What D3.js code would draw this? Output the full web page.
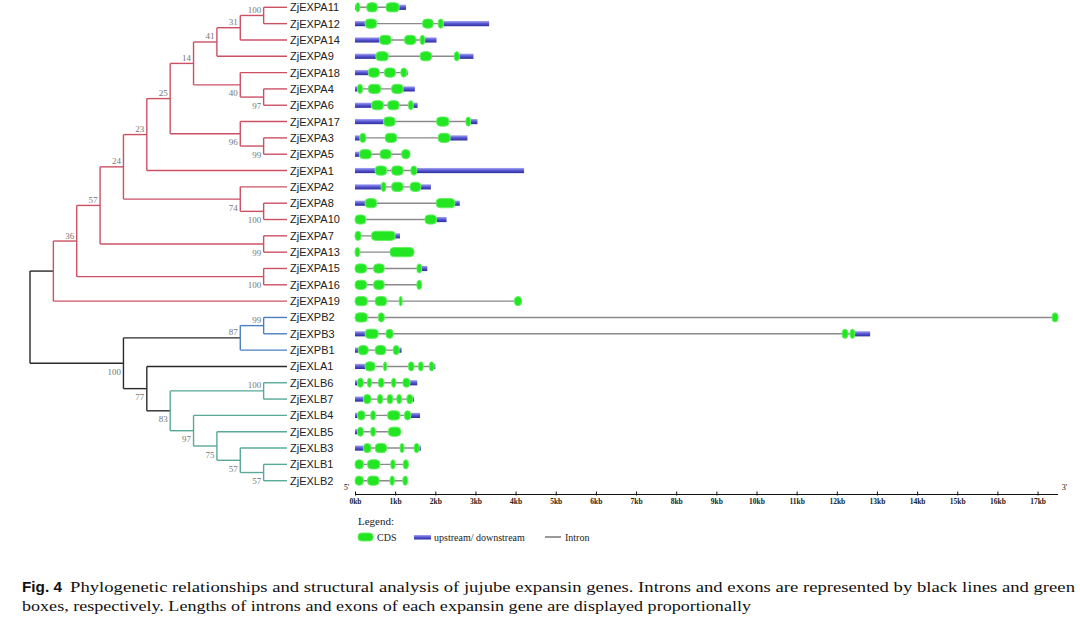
<!DOCTYPE html>
<html><head><meta charset="utf-8">
<script src="https://cdn.jsdelivr.net/npm/d3@7"></script>
<style>body{margin:0;background:#fff}</style>
</head><body>
<svg id="c" width="1080" height="625"></svg>
<script>
// ---------- DATA ----------
const treeNewick = "(((((((((((ZjEXPA11,ZjEXPA12)100,ZjEXPA14)31,ZjEXPA9)41,(ZjEXPA18,(ZjEXPA4,ZjEXPA6)97)40)14,(ZjEXPA17,(ZjEXPA3,ZjEXPA5)99)96)25,ZjEXPA1)23,(ZjEXPA2,(ZjEXPA8,ZjEXPA10)100)74)24,(ZjEXPA7,ZjEXPA13)99)57,(ZjEXPA15,ZjEXPA16)100)36,ZjEXPA19),(((ZjEXPB2,ZjEXPB3)99,ZjEXPB1)87,(ZjEXLA1,((ZjEXLB6,ZjEXLB7)100,(ZjEXLB4,(ZjEXLB5,(ZjEXLB3,(ZjEXLB1,ZjEXLB2)57)57)75)97)83)77)100);";
const cladePrefixes = ["ZjEXPA", "ZjEXPB", "ZjEXLB"];
const cladeColors = ["#cc5064", "#4b7fc0", "#5aa898"];

const geneNames = ["ZjEXPA11","ZjEXPA12","ZjEXPA14","ZjEXPA9","ZjEXPA18","ZjEXPA4","ZjEXPA6","ZjEXPA17","ZjEXPA3","ZjEXPA5",
  "ZjEXPA1","ZjEXPA2","ZjEXPA8","ZjEXPA10","ZjEXPA7","ZjEXPA13","ZjEXPA15","ZjEXPA16","ZjEXPA19","ZjEXPB2",
  "ZjEXPB3","ZjEXPB1","ZjEXLA1","ZjEXLB6","ZjEXLB7","ZjEXLB4","ZjEXLB5","ZjEXLB3","ZjEXLB1","ZjEXLB2"];
// gene length in kb (end of downstream region)
const geneEnd = [1.27,3.34,2.03,2.95,1.31,1.49,1.56,3.05,2.80,1.37,
  4.21,1.89,2.61,2.28,1.12,1.47,1.80,1.66,4.15,17.51,
  12.83,1.16,2.00,1.55,1.47,1.62,1.14,1.64,1.33,1.31];
// CDS exons [start, end] in kb
const geneExons = [
  [[0.02,0.12],[0.29,0.56],[0.77,1.10]],
  [[0.25,0.54],[1.68,1.95],[2.07,2.20]],
  [[0.61,0.90],[1.23,1.52],[1.62,1.74]],
  [[0.52,0.83],[1.62,1.91],[2.47,2.60]],
  [[0.33,0.61],[0.73,1.01],[1.14,1.29]],
  [[0.06,0.19],[0.33,0.64],[0.91,1.20]],
  [[0.41,0.71],[0.81,1.10],[1.33,1.45]],
  [[0.71,1.00],[2.03,2.34],[2.76,2.88]],
  [[0.12,0.27],[0.75,1.04],[2.07,2.37]],
  [[0.11,0.41],[0.62,0.90],[1.16,1.37]],
  [[0.50,0.79],[0.91,1.20],[1.39,1.54]],
  [[0.65,0.77],[0.91,1.20],[1.37,1.64]],
  [[0.25,0.54],[2.02,2.49]],
  [[0.00,0.27],[1.74,2.03]],
  [[0.00,0.15],[0.41,1.00]],
  [[0.00,0.12],[0.87,1.47]],
  [[0.00,0.29],[0.46,0.73],[1.54,1.66]],
  [[0.00,0.29],[0.46,0.73],[1.54,1.66]],
  [[0.00,0.31],[0.50,0.79],[1.10,1.16],[3.97,4.15]],
  [[0.00,0.31],[0.58,0.73],[17.36,17.51]],
  [[0.25,0.58],[0.77,0.95],[12.13,12.28],[12.33,12.45]],
  [[0.08,0.33],[0.50,0.77],[0.95,1.10]],
  [[0.25,0.50],[0.71,0.79],[1.33,1.47],[1.58,1.70],[1.85,1.97]],
  [[0.06,0.21],[0.31,0.41],[0.58,0.72],[0.91,1.02],[1.19,1.37]],
  [[0.21,0.40],[0.56,0.69],[0.80,0.94],[1.04,1.16],[1.29,1.44]],
  [[0.06,0.25],[0.39,0.51],[0.81,1.12],[1.23,1.39]],
  [[0.06,0.21],[0.39,0.51],[0.83,1.14]],
  [[0.21,0.40],[0.50,0.79],[1.12,1.22],[1.47,1.60]],
  [[0.00,0.21],[0.31,0.62],[0.89,1.00],[1.20,1.33]],
  [[0.00,0.21],[0.31,0.60],[0.87,0.98],[1.19,1.31]]
];
const axisTicks = d3.range(0, 18);
const axisMaxKb = 17.5;
const legendLabels = ["CDS", "upstream/ downstream", "Intron"];
const captionTitle = "Fig. 4";
const captionLines = [
  "Phylogenetic relationships and structural analysis of jujube expansin genes. Introns and exons are represented by black lines and green",
  "boxes, respectively. Lengths of introns and exons of each expansin gene are displayed proportionally"
];

// ---------- HELPERS ----------
function parseNewick(s) {
  let i = 0;
  function node() {
    const n = {};
    if (s[i] === "(") {
      i++; n.children = [];
      while (true) {
        n.children.push(node());
        if (s[i] === ",") { i++; continue; }
        i++; break;
      }
    }
    let name = "";
    while (i < s.length && !",();".includes(s[i])) name += s[i++];
    n.name = name;
    return n;
  }
  return node();
}

const svg = d3.select("#c");
const defs = svg.append("defs");
const grad = defs.append("linearGradient").attr("id", "utr").attr("x1", 0).attr("x2", 0).attr("y1", 0).attr("y2", 1);
grad.append("stop").attr("offset", "0%").attr("stop-color", "#a8a8f4");
grad.append("stop").attr("offset", "45%").attr("stop-color", "#5a5ad6");
grad.append("stop").attr("offset", "100%").attr("stop-color", "#2c2c9c");

// ---------- TREE ----------
const root = d3.hierarchy(parseNewick(treeNewick));
d3.cluster().separation(() => 1).size([1, 1])(root);
const nLeaves = root.leaves().length;
const yPos = d3.scaleLinear().domain([0.5 / nLeaves, (nLeaves - 0.5) / nLeaves]).range([7.3, 480.7]);
const xPos = d3.scaleLinear().domain([0, 1]).range([30, 287]);

function cladeColor(d) {
  const names = d.leaves().map(l => l.data.name);
  for (let k = 0; k < cladePrefixes.length; k++) {
    if (names.every(n => n.startsWith(cladePrefixes[k]))) return cladeColors[k];
  }
  return "#2a2a2a";
}
root.each(d => { d.color = cladeColor(d); });

const gTree = svg.append("g");
gTree.selectAll("path.h").data(root.descendants().filter(d => d.parent)).join("path")
  .attr("d", d => `M${xPos(d.parent.y)},${yPos(d.x)}H${xPos(d.y)}`)
  .attr("stroke", d => d.parent.color).attr("stroke-width", 1.4).attr("fill", "none");
gTree.selectAll("path.v").data(root.descendants().filter(d => d.children)).join("path")
  .attr("d", d => `M${xPos(d.y)},${yPos(d.children[0].x)}V${yPos(d.children[d.children.length - 1].x)}`)
  .attr("stroke", d => d.color).attr("stroke-width", 1.4).attr("fill", "none");
gTree.selectAll("text.bs").data(root.descendants().filter(d => d.children && d.parent && d.data.name)).join("text")
  .attr("x", d => xPos(d.y) - 2.5)
  .attr("y", d => yPos(d.x) + (d.parent.children[0] === d ? -2.5 : 11.5))
  .attr("text-anchor", "end").attr("font-family", "Liberation Serif, serif").attr("font-size", 9)
  .attr("fill", "#777").text(d => d.data.name);
gTree.selectAll("text.leaf").data(root.leaves()).join("text")
  .attr("x", 290).attr("y", d => yPos(d.x)).attr("dy", "0.36em")
  .attr("font-family", "Liberation Sans, Arial, sans-serif").attr("font-size", 11).attr("fill", "#222")
  .text(d => d.data.name);

// ---------- GENE STRUCTURES ----------
const xKb = d3.scaleLinear().domain([0, axisMaxKb]).range([355, 355 + axisMaxKb * 40.15]);
const rowY = {};
root.leaves().forEach(l => { rowY[l.data.name] = yPos(l.x); });
const genes = geneNames.map((n, i) => ({ name: n, end: geneEnd[i], exons: geneExons[i], y: rowY[n] }));

const gGene = svg.append("g");
const gg = gGene.selectAll("g").data(genes).join("g");
gg.append("line")
  .attr("x1", d => xKb(d.exons[0][0])).attr("x2", d => xKb(d.exons[d.exons.length - 1][1]))
  .attr("y1", d => d.y).attr("y2", d => d.y)
  .attr("stroke", "#8a8a8a").attr("stroke-width", 1.4);
gg.each(function (d) {
  const g = d3.select(this);
  const segs = [];
  if (d.exons[0][0] > 0) segs.push([0, d.exons[0][0]]);
  const last = d.exons[d.exons.length - 1][1];
  if (d.end > last) segs.push([last, d.end]);
  g.selectAll("rect.utr").data(segs).join("rect")
    .attr("x", s => xKb(s[0])).attr("width", s => xKb(s[1]) - xKb(s[0]))
    .attr("y", d.y - 2.6).attr("height", 5.2).attr("fill", "url(#utr)");
  g.selectAll("rect.cds").data(d.exons).join("rect")
    .attr("x", s => xKb(s[0])).attr("width", s => Math.max(3, xKb(s[1]) - xKb(s[0])))
    .attr("y", d.y - 4.6).attr("height", 9.2)
    .attr("rx", s => Math.min(4, (xKb(s[1]) - xKb(s[0])) / 2)).attr("ry", 4)
    .attr("fill", "#22e622").attr("stroke", "#66f066").attr("stroke-width", 1);
});

// ---------- AXIS ----------
const axis = d3.axisBottom(xKb).tickValues(axisTicks).tickFormat(d => d + "kb")
  .tickSizeInner(-3).tickSizeOuter(0).tickPadding(5);
const gAxis = svg.append("g").attr("transform", "translate(0,494)").call(axis);
gAxis.select(".domain").attr("stroke", "#111").attr("stroke-width", 1);
gAxis.selectAll(".tick line").attr("stroke", "#111").attr("y2", 1.5).attr("y1", -2.5);
gAxis.selectAll(".tick text").attr("font-family", "Liberation Serif, serif").attr("font-size", 7.5)
  .attr("font-weight", "bold").attr("fill", "#222");
svg.append("text").attr("x", 344).attr("y", 490).attr("font-family", "Liberation Serif, serif").attr("font-size", 7.5).text("5'");
svg.append("text").attr("x", 1062).attr("y", 490).attr("font-family", "Liberation Serif, serif").attr("font-size", 7.5).text("3'");

// ---------- LEGEND ----------
const gLeg = svg.append("g").attr("font-family", "Liberation Serif, serif").attr("fill", "#222");
gLeg.append("text").attr("x", 358).attr("y", 525).attr("font-size", 11).text("Legend:");
gLeg.append("rect").attr("x", 358).attr("y", 533).attr("width", 15).attr("height", 8).attr("rx", 3.5)
  .attr("fill", "#22e622").attr("stroke", "#66f066");
gLeg.append("text").attr("x", 377).attr("y", 540.5).attr("font-size", 10).text(legendLabels[0]);
gLeg.append("rect").attr("x", 414).attr("y", 535).attr("width", 17).attr("height", 4.5).attr("fill", "url(#utr)");
gLeg.append("text").attr("x", 434).attr("y", 540.5).attr("font-size", 10).text(legendLabels[1]);
gLeg.append("line").attr("x1", 545).attr("x2", 561).attr("y1", 537).attr("y2", 537).attr("stroke", "#555").attr("stroke-width", 1.2);
gLeg.append("text").attr("x", 565).attr("y", 540.5).attr("font-size", 10).text(legendLabels[2]);

// ---------- CAPTION ----------
svg.append("text").attr("x", 22).attr("y", 592).attr("font-family", "Liberation Sans, Arial, sans-serif")
  .attr("font-weight", "bold").attr("font-size", 14).attr("textLength", 40).attr("lengthAdjust", "spacingAndGlyphs")
  .attr("fill", "#111").text(captionTitle);
svg.append("text").attr("x", 70).attr("y", 592).attr("font-family", "Liberation Serif, serif").attr("font-size", 15)
  .attr("textLength", 1005).attr("lengthAdjust", "spacingAndGlyphs").attr("fill", "#111").text(captionLines[0]);
svg.append("text").attr("x", 22).attr("y", 611).attr("font-family", "Liberation Serif, serif").attr("font-size", 15)
  .attr("textLength", 729).attr("lengthAdjust", "spacingAndGlyphs").attr("fill", "#111").text(captionLines[1]);
</script>
</body></html>
